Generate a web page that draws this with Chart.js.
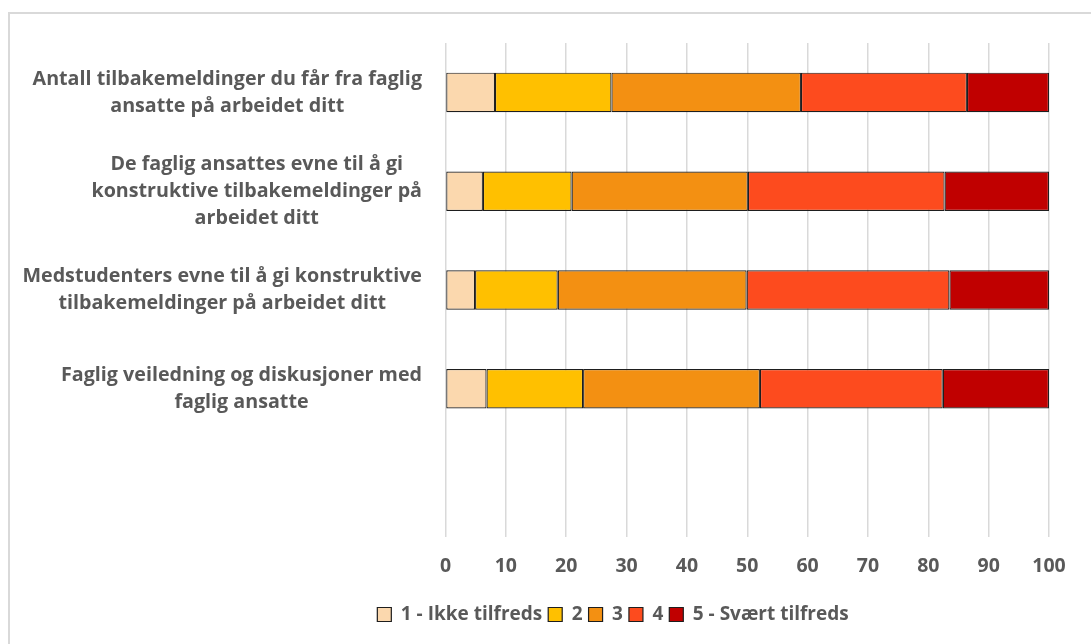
<!DOCTYPE html>
<html>
<head>
<meta charset="utf-8">
<script src="https://cdn.jsdelivr.net/npm/chart.js@4"></script>
<style>
  html, body { margin: 0; padding: 0; background: #fff; }
  #wrap { position: relative; width: 1091px; height: 644px; overflow: hidden; }
  #frame { position: absolute; left: 8px; top: 12px; width: 1200px; height: 700px;
           border-left: 2px solid #d9d9d9; border-top: 2px solid #d9d9d9; }
  #chart { position: absolute; left: 0; top: 0; }
</style>
</head>
<body>
<div id="wrap">
  <div id="frame"></div>
  <canvas id="chart" width="1091" height="644"></canvas>
</div>
<script>
// ---------------------------- data ---------------------------- //
const categories = [
    ['Antall tilbakemeldinger du får fra faglig', 'ansatte på arbeidet ditt'],
    ['De faglig ansattes evne til å gi', 'konstruktive tilbakemeldinger på', 'arbeidet ditt'],
    ['Medstudenters evne til å gi konstruktive', 'tilbakemeldinger på arbeidet ditt'],
    ['Faglig veiledning og diskusjoner med', 'faglig ansatte']
];
const seriesNames = ['1 - Ikke tilfreds', '2', '3', '4', '5 - Svært tilfreds'];
const ikkeTilfreds = [8.2, 6.2, 4.9, 6.8];
const score2 = [19.3, 14.7, 13.7, 16.0];
const score3 = [31.4, 29.2, 31.3, 29.3];
const score4 = [27.5, 32.6, 33.6, 30.3];
const svaertTilfreds = [13.6, 17.3, 16.5, 17.6];
const xTicks = [0, 10, 20, 30, 40, 50, 60, 70, 80, 90, 100];

const colors = ['#fbd8ae', '#ffc000', '#f39012', '#fd4b1e', '#c00000'];
const textGray = '#595959';
const fontFam = '"Open Sans", Lato, sans-serif';

// Excel style labels: each block right aligned, lines centered in the block
const labelPlugin = {
    id: 'catLabels',
    afterDraw(chart) {
        const ctx = chart.ctx;
        const y = chart.scales.y;
        ctx.save();
        ctx.font = 'bold 19.7px ' + fontFam;
        ctx.fillStyle = textGray;
        ctx.textAlign = 'center';
        ctx.textBaseline = 'middle';
        const labelRight = 422;
        const lineH = 27;
        categories.forEach((lines, i) => {
            const cy = y.getPixelForValue(i);
            const w = Math.max(...lines.map(l => ctx.measureText(l).width));
            const cx = labelRight - w / 2;
            lines.forEach((line, k) => {
                ctx.fillText(line, cx, cy + (k - (lines.length - 1) / 2) * lineH);
            });
        });
        ctx.restore();
    }
};

const values = [ikkeTilfreds, score2, score3, score4, svaertTilfreds];

new Chart(document.getElementById('chart'), {
    type: 'bar',
    data: {
        labels: categories.map(c => c.join(' ')).concat(['']),
        datasets: values.map((v, i) => ({
            label: seriesNames[i],
            data: v,
            backgroundColor: colors[i],
            borderColor: '#1e1e1e',
            borderWidth: 1.2,
            borderSkipped: false,
            barPercentage: 0.4,
            categoryPercentage: 1
        }))
    },
    options: {
        indexAxis: 'y',
        responsive: false,
        animation: false,
        layout: { padding: { left: 177, right: 42, top: 43, bottom: 10 } },
        plugins: {
            tooltip: { enabled: false },
            legend: {
                position: 'bottom',
                labels: {
                    color: textGray,
                    font: { family: fontFam, size: 19, weight: 'bold' },
                    boxWidth: 14,
                    boxHeight: 14,
                    padding: 6
                }
            }
        },
        scales: {
            x: {
                stacked: true,
                min: 0,
                max: 100,
                afterBuildTicks: (scale) => { scale.ticks = xTicks.map(v => ({ value: v })); },
                ticks: {
                    color: textGray,
                    font: { family: fontFam, size: 19.5, weight: 'bold' },
                    padding: 18
                },
                grid: { color: '#d9d9d9', lineWidth: 1.5, drawTicks: false },
                border: { display: false },
                afterFit: (scale) => { scale.height = 62; }
            },
            y: {
                stacked: true,
                ticks: { display: false },
                grid: { display: false },
                border: { display: false },
                afterFit: (scale) => { scale.width = 268.5; }
            }
        }
    },
    plugins: [labelPlugin]
});
</script>
</body>
</html>
